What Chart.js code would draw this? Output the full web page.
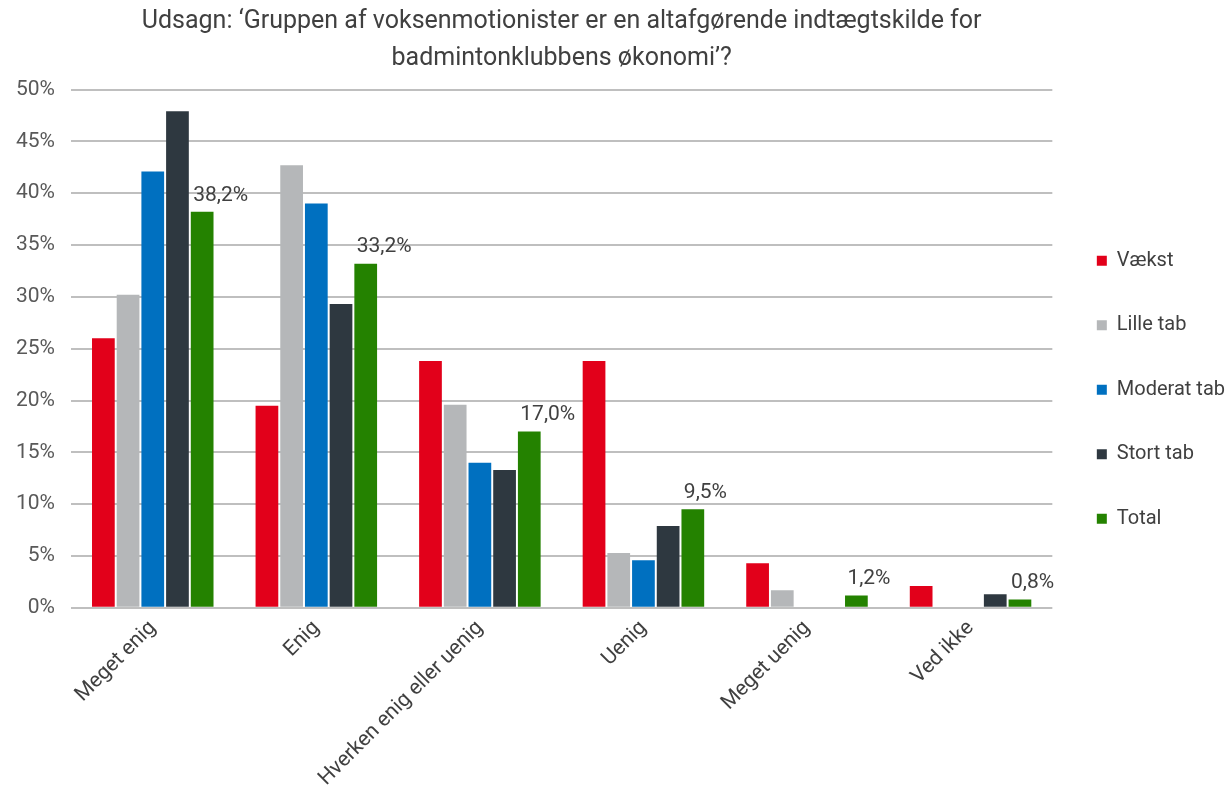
<!DOCTYPE html>
<html lang="da">
<head>
    <meta charset="UTF-8">
    <title>Voksenmotionister og klubøkonomi</title>
    <script src="https://cdn.jsdelivr.net/npm/chart.js"></script>
    <style>
        body { margin: 0; background: #fff; }
        #chart { display: block; }
    </style>
</head>
<body>
    <canvas id="chart" width="1227" height="791"></canvas>

    <script>
        const categories = ['Meget enig', 'Enig', 'Hverken enig eller uenig', 'Uenig', 'Meget uenig', 'Ved ikke'];
        const vaekst   = [26.0, 19.5, 23.8, 23.8, 4.3, 2.1];
        const lilleTab = [30.2, 42.7, 19.6, 5.3, 1.7, 0];
        const moderat  = [42.1, 39.0, 14.0, 4.6, 0, 0];
        const stortTab = [47.9, 29.3, 13.3, 7.9, 0, 1.3];
        const total    = [38.2, 33.2, 17.0, 9.5, 1.2, 0.8];
        const yTicks   = [0, 5, 10, 15, 20, 25, 30, 35, 40, 45, 50];

        const textColor = '#404040';
        const fontFamily = 'Roboto, "Open Sans", sans-serif';

        // percentage labels above the Total bars only
        const totalLabels = {
            id: 'totalLabels',
            afterDatasetsDraw(chart) {
                const ctx = chart.ctx;
                const meta = chart.getDatasetMeta(4);
                ctx.save();
                ctx.font = '21px ' + fontFamily;
                ctx.fillStyle = textColor;
                ctx.textAlign = 'left';
                ctx.textBaseline = 'bottom';
                meta.data.forEach((bar, i) => {
                    const txt = total[i].toFixed(1).replace('.', ',') + '%';
                    ctx.fillText(txt, bar.x - 9, bar.y - 6);
                });
                ctx.restore();
            }
        };

        const ds = (label, data, color) => ({
            label: label,
            data: data,
            backgroundColor: color,
            borderWidth: 0,
            categoryPercentage: 0.755,
            barPercentage: 0.92
        });

        new Chart(document.getElementById('chart'), {
            type: 'bar',
            data: {
                labels: categories,
                datasets: [
                    ds('Vækst', vaekst, 'rgb(226,0,26)'),
                    ds('Lille tab', lilleTab, 'rgb(181,183,185)'),
                    ds('Moderat tab', moderat, 'rgb(0,112,192)'),
                    ds('Stort tab', stortTab, 'rgb(46,56,64)'),
                    ds('Total', total, 'rgb(36,130,0)')
                ]
            },
            options: {
                responsive: false,
                animation: false,
                layout: { padding: { left: 0, top: 4, right: -8, bottom: 0 } },
                plugins: {
                    title: {
                        display: true,
                        fullSize: false,
                        text: ['Udsagn: \u2018Gruppen af voksenmotionister er en altafgørende indtægtskilde for', 'badmintonklubbens økonomi\u2019?'],
                        color: textColor,
                        font: { family: fontFamily, size: 25, weight: 'normal', lineHeight: 1.45 },
                        padding: { top: 0, bottom: 13 }
                    },
                    legend: {
                        position: 'right',
                        align: 'start',
                        title: {
                            display: true,
                            text: ' ',
                            font: { size: 1 },
                            padding: { top: 201, bottom: 0 }
                        },
                        labels: {
                            boxWidth: 10,
                            boxHeight: 10,
                            padding: 44.5,
                            color: textColor,
                            font: { family: fontFamily, size: 20 }
                        }
                    },
                    tooltip: { enabled: false }
                },
                scales: {
                    x: {
                        grid: { display: false },
                        border: { display: false },
                        ticks: {
                            color: textColor,
                            font: { family: fontFamily, size: 21 },
                            minRotation: 45,
                            maxRotation: 45,
                            padding: 0
                        }
                    },
                    y: {
                        min: 0,
                        max: 50,
                        afterBuildTicks(axis) {
                            axis.ticks = yTicks.map(v => ({ value: v }));
                        },
                        grid: { color: '#bfbfbf', lineWidth: 2, drawTicks: false },
                        border: { display: false },
                        ticks: {
                            color: '#595959',
                            font: { family: fontFamily, size: 21 },
                            padding: 16,
                            callback: v => v + '%'
                        }
                    }
                }
            },
            plugins: [totalLabels]
        });
    </script>
</body>
</html>
